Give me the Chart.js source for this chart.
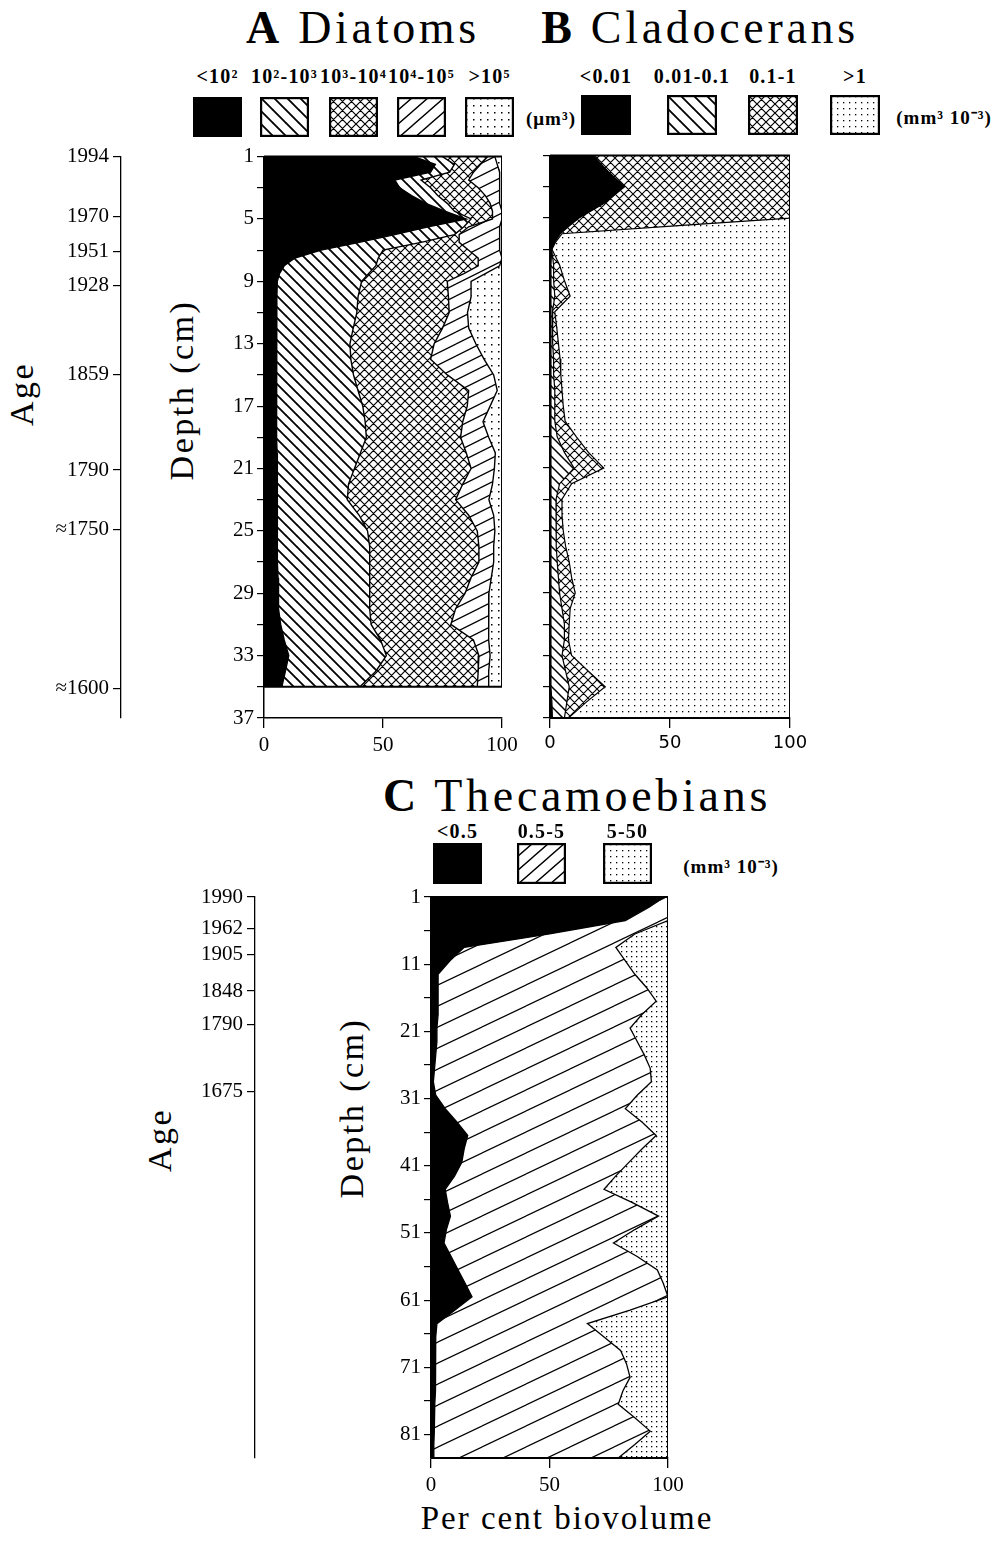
<!DOCTYPE html>
<html>
<head>
<meta charset="utf-8">
<script src="https://cdn.jsdelivr.net/npm/chart.js@4.4.1/dist/chart.umd.min.js"></script>
<style>
html, body { margin: 0; padding: 0; background: #fff; }
#page { position: relative; width: 1004px; height: 1544px; overflow: hidden;
        font-family: 'Liberation Serif', 'Times New Roman', serif; color: #000; }
#page canvas { position: absolute; }
.txt { position: absolute; white-space: nowrap; line-height: 1; transform: translate(-50%, -50%); }
.rot { transform: translate(-50%, -50%) rotate(-90deg); }
.title { font-size: 46px; letter-spacing: 3.7px; }
.axt { font-size: 34px; letter-spacing: 2.5px; }
.lab { font-size: 20px; font-weight: bold; letter-spacing: 1.2px; }
.unit { font-size: 19px; font-weight: bold; letter-spacing: 1px; }
</style>
</head>
<body>
<div id="page">
  <div class="txt title" style="left:363px;top:28px"><b>A</b> Diatoms</div>
  <div class="txt title" style="left:700px;top:28px"><b>B</b> Cladocerans</div>
  <div class="txt title" style="left:577px;top:796px"><b>C</b> Thecamoebians</div>
  <div class="txt unit" style="left:551px;top:118px">(μm³)</div>
  <div class="txt unit" style="left:944px;top:117px">(mm³ 10⁻³)</div>
  <div class="txt unit" style="left:731px;top:866px">(mm³ 10⁻³)</div>
  <div class="txt axt rot" style="left:22px;top:394px">Age</div>
  <div class="txt axt rot" style="left:182px;top:390px">Depth (cm)</div>
  <div class="txt axt rot" style="left:160px;top:1140px">Age</div>
  <div class="txt axt rot" style="left:352px;top:1108px">Depth (cm)</div>
  <div class="txt" style="left:567px;top:1518px;font-size:33px;letter-spacing:2px">Per cent biovolume</div>
  <canvas id="chartA" width="525" height="620" style="left:0;top:140px"></canvas>
  <canvas id="chartB" width="290" height="620" style="left:525px;top:140px"></canvas>
  <canvas id="chartC" width="570" height="620" style="left:130px;top:880px"></canvas>
</div>
<script>
// Size classes (legend labels)
const diatomClasses = ['<10²', '10²-10³', '10³-10⁴', '10⁴-10⁵', '>10⁵'];
const cladoceranClasses = ['<0.01', '0.01-0.1', '0.1-1', '>1'];
const thecamoebianClasses = ['<0.5', '0.5-5', '5-50'];

// A Diatoms: depth (cm) and cumulative % at the upper edge of each class
const depthsA = [1, 1.5, 2, 2.5, 3, 3.5, 4, 4.5, 5, 5.5, 6, 6.5, 7, 7.5, 8, 8.5, 9,
  10, 11, 12, 13, 14, 15, 16, 17, 18, 19, 20, 21, 22, 23, 24, 25, 26, 27, 28, 29, 30, 31, 32, 33, 34, 35];
const diatomTo1e2 = [63, 72, 70, 55, 57, 62, 68, 76, 85, 69, 55, 40, 24, 13, 8.5, 6.5, 5.6,
  5.4, 5.3, 5.3, 5.2, 5.2, 5.2, 5.3, 5.3, 5.4, 5.4, 5.5, 5.5, 5.5, 5.6, 5.6, 5.6, 5.7, 5.8, 5.9, 6, 6.2, 7, 8.5, 10.4, 9, 7.5];
const diatomTo1e3 = [75, 80, 78, 66, 70, 73, 77, 80, 87, 84, 80, 66, 50, 48, 47, 44, 41,
  39.5, 39, 37.5, 36.1, 36.5, 37.6, 39.5, 41.5, 42.5, 43, 40.5, 38, 35.5, 35, 40, 43.5, 44.4, 44.4, 44.4, 44.4, 44.4, 45, 49, 51.4, 47, 40.3];
const diatomTo1e4 = [94, 91, 88, 86, 90, 93, 95, 96, 96, 86, 82, 82, 86, 90, 90, 84, 77,
  77.5, 77.8, 75, 71.5, 70, 77, 86, 85.4, 83.5, 82.6, 85, 87, 83.5, 80.5, 86, 89.6, 90.3, 90.3, 87, 84.5, 80.5, 78.5, 88, 90.3, 90, 89.6];
const diatomTo1e5 = [97, 98, 99, 99, 99, 99, 99, 100, 100, 99, 99, 99, 99, 100, 99, 93, 87,
  87, 85.5, 86, 89, 92.5, 96.5, 98, 95, 92, 94.4, 97.2, 96.8, 96, 94.5, 96.5, 97, 96.5, 96.5, 95.5, 94.5, 94.4, 94.4, 94.4, 95, 94.4, 94.4];
const diatomTotal = depthsA.map(() => 100);

// B Cladocerans
const depthsB = [1, 2, 3, 4, 5, 5.5, 6, 6.5, 7, 8, 9, 10, 11, 12, 13, 14, 15, 16, 17, 18, 19, 20,
  21, 22, 23, 24, 25, 26, 27, 28, 29, 30, 31, 32, 33, 34, 35, 36, 37];
const cladTo001 = [18, 24, 31, 23, 12, 8, 4.2, 2, 0.7, 0.4, 0.4, 0.4, 0.4, 0.4, 0.4, 0.4, 0.4, 0.4, 0.4, 0.4, 0.4, 0.4,
  0.4, 0.4, 0.4, 0.4, 0.4, 0.4, 0.4, 0.4, 0.4, 0.4, 0.4, 0.4, 0.4, 0.4, 0.4, 0.8, 1];
const cladTo01 = [18, 24, 31, 23, 12, 8, 4.2, 2, 0.7, 1.5, 1.5, 2, 1, 1, 1.2, 1.5, 1.5, 2, 2, 2, 3, 6,
  10, 4, 2.5, 2.5, 2.5, 2.8, 3, 3.5, 4, 5, 6, 6, 5, 6.5, 8, 7, 6];
const cladTo1 = [100, 100, 100, 100, 100, 52, 5, 2.5, 0.8, 4, 6, 8.4, 2, 2.8, 3.5, 4.2, 4.5, 5, 5.5, 6.3, 11, 16,
  22.4, 9, 5, 5, 5.5, 6.5, 8, 9, 10.5, 8.4, 8, 7.7, 9, 16, 23, 15, 7.7];
const cladTotal = depthsB.map(() => 100);

// C Thecamoebians
const depthsC = [1, 2.5, 4.5, 6.5, 8.5, 10.5, 12.5, 14.5, 16.5, 18.5, 20.5, 22.5, 24.5, 26.5, 28.5,
  30.5, 32.5, 34.5, 36.5, 38.5, 40.5, 42.5, 44.5, 46.5, 48.5, 50.5, 52.5, 54.5, 56.5, 58.5,
  60.5, 62.5, 64.5, 66.5, 68.5, 70.5, 72.5, 74.5, 76.5, 78.5, 80.5, 82.5, 84.5];
const thecTo05 = [98.5, 92, 82, 50, 14, 8, 3, 3, 3, 3, 2.5, 2.5, 2, 1.5, 1,
  2, 6, 11, 15.5, 14, 13, 10, 6, 7, 8.2, 6.5, 5.5, 8.5, 11.4, 14.4,
  17.3, 10, 2.5, 2, 2, 2, 1.8, 1.8, 1.6, 1.5, 1.3, 1.2, 1.2];
const thecTo5 = [100, 100, 100, 86, 78, 82, 86, 91, 95, 89, 84, 87, 90, 92.5, 93,
  87, 82, 89, 95, 89, 83.5, 78, 73, 85, 96, 86, 77, 87, 95.5, 98,
  100, 84, 66, 73, 80, 82.5, 84, 81, 79, 86, 92.5, 86, 79];
const thecTotal = depthsC.map(() => 100);

// Axis ticks
const depthTicksAB = [1, 3, 5, 7, 9, 11, 13, 15, 17, 19, 21, 23, 25, 27, 29, 31, 33, 35, 37];
const depthLabelsA = [1, 5, 9, 13, 17, 21, 25, 29, 33, 37];
const depthTicksC = [1, 6, 11, 16, 21, 26, 31, 36, 41, 46, 51, 56, 61, 66, 71, 76, 81];
const depthLabelsC = [1, 11, 21, 31, 41, 51, 61, 71, 81];
const ageDepthsA = [1, 4.85, 7.1, 9.25, 15, 21.1, 24.9, 35.1];
const ageLabelsA = ['1994', '1970', '1951', '1928', '1859', '1790', '≈1750', '≈1600'];
const ageDepthsC = [1, 5.7, 9.6, 15, 20, 30];
const ageLabelsC = ['1990', '1962', '1905', '1848', '1790', '1675'];

// Pattern tiles
function tile(w, h, draw) {
    const c = document.createElement('canvas');
    c.width = w; c.height = h;
    const g = c.getContext('2d');
    draw(g, w, h);
    return c;
}

function lineTile(w, h, segs, lw) {
    return tile(w, h, (g) => {
        g.strokeStyle = '#000';
        g.lineWidth = lw;
        g.beginPath();
        for (const dx of [-w, 0, w]) {
            for (const dy of [-h, 0, h]) {
                segs.forEach(s => {
                    g.moveTo(s[0] + dx, s[1] + dy);
                    g.lineTo(s[2] + dx, s[3] + dy);
                });
            }
        }
        g.stroke();
    });
}

function dotTile(step, size) {
    return tile(step, step, (g) => {
        g.fillStyle = '#000';
        g.fillRect(1, 1, size, size);
    });
}

const helper = document.createElement('canvas').getContext('2d');
function pat(t) { return helper.createPattern(t, 'repeat'); }

const backTileA = lineTile(11, 11, [[0, 0, 11, 11]], 1.8);
const crossTileA = lineTile(9, 9, [[0, 0, 9, 9], [0, 9, 9, 0]], 1.2);
const flatTileA = lineTile(24, 12, [[0, 12, 24, 0]], 1.3);
const dotsTileA = dotTile(7, 1.5);
const backTileB = lineTile(10, 10, [[0, 0, 10, 10]], 1.5);
const crossTileB = lineTile(9, 9, [[0, 0, 9, 9], [0, 9, 9, 0]], 1.1);
const dotsTileB = dotTile(6, 1.3);
const flatTileC = lineTile(44, 21, [[0, 21, 44, 0]], 1.2);
const dotsTileC = dotTile(5, 1.3);
const legendSlashTile = lineTile(16, 14, [[0, 14, 16, 0]], 1.4);
const legendBackTile = lineTile(13, 13, [[0, 0, 13, 13]], 1.8);

const fillsA = ['#000', pat(backTileA), pat(crossTileA), pat(flatTileA), pat(dotsTileA)];
const fillsB = ['#000', pat(backTileB), pat(crossTileB), pat(dotsTileB)];
const fillsC = ['#000', pat(flatTileC), pat(dotsTileC)];

// Legend swatches and labels
function addLegend(labels, tiles, lefts, top, w, h, labelY) {
    const page = document.getElementById('page');
    labels.forEach((text, i) => {
        const d = document.createElement('div');
        d.className = 'txt lab';
        d.style.left = (lefts[i] + w / 2) + 'px';
        d.style.top = labelY + 'px';
        d.textContent = text;
        page.appendChild(d);

        const c = document.createElement('canvas');
        c.width = w; c.height = h;
        c.style.left = lefts[i] + 'px';
        c.style.top = top + 'px';
        const g = c.getContext('2d');
        if (tiles[i] === null) {
            g.fillStyle = '#000';
            g.fillRect(0, 0, w, h);
        } else {
            g.fillStyle = g.createPattern(tiles[i], 'repeat');
            g.fillRect(0, 0, w, h);
            g.strokeStyle = '#000';
            g.lineWidth = 2.2;
            g.strokeRect(1.1, 1.1, w - 2.2, h - 2.2);
        }
        page.appendChild(c);
    });
}

addLegend(diatomClasses, [null, legendBackTile, crossTileA, legendSlashTile, dotsTileA],
    [193, 260, 329, 397, 465], 97, 49, 40, 76);
addLegend(cladoceranClasses, [null, legendBackTile, crossTileA, dotsTileB],
    [581, 667, 748, 830], 95, 50, 40, 76);
addLegend(thecamoebianClasses, [null, legendSlashTile, dotsTileB],
    [433, 517, 603], 843, 49, 41, 831);

// Top and bottom edges of the profile
const framePlugin = {
    id: 'frame',
    afterDatasetsDraw(chart, args, opts) {
        const {ctx} = chart;
        const x = chart.scales.x;
        const y = chart.scales.y;
        ctx.save();
        ctx.strokeStyle = '#000';
        ctx.lineWidth = opts.width;
        opts.depths.forEach(d => {
            const py = y.getPixelForValue(d);
            ctx.beginPath();
            ctx.moveTo(x.getPixelForValue(0), py);
            ctx.lineTo(x.getPixelForValue(100), py);
            ctx.stroke();
        });
        ctx.restore();
    }
};

Chart.defaults.color = '#000';
Chart.defaults.font.family = "'Liberation Serif', 'Times New Roman', serif";

function makeProfile(id, p) {
    const datasets = p.bounds.map((vals, i) => ({
        label: p.labels[i],
        data: p.depths.map((d, j) => ({x: vals[j], y: d})),
        borderColor: '#000',
        borderWidth: i === p.bounds.length - 1 ? 2 : p.lineWidth,
        backgroundColor: p.fills[i],
        fill: i === 0 ? 'origin' : '-1',
        pointRadius: 0,
        tension: 0
    }));

    const scales = {
        x: {
            type: 'linear',
            position: 'bottom',
            min: 0,
            max: 100,
            ticks: {stepSize: 50, padding: 5, font: p.xFont, maxRotation: 0},
            grid: {drawOnChartArea: false, tickLength: 10, color: '#000', tickColor: '#000', lineWidth: 1.3},
            border: {color: '#000', width: 1.5},
            afterFit: (s) => { s.height = 42; }
        },
        y: {
            type: 'linear',
            position: 'left',
            weight: 0,
            reverse: true,
            min: p.depths[0],
            max: p.yMax,
            afterBuildTicks: (s) => { s.ticks = p.depthTicks.map(v => ({value: v})); },
            ticks: {
                autoSkip: false,
                padding: 3,
                font: {size: 21},
                callback: (v) => p.depthLabels.includes(v) ? String(v) : ''
            },
            grid: {drawOnChartArea: false, tickLength: 7, color: '#000', tickColor: '#000', lineWidth: 1.2},
            border: {color: '#000', width: 1.5},
            afterFit: (s) => { s.width = p.depthWidth; }
        }
    };

    if (p.ageDepths) {
        scales.age = {
            type: 'linear',
            position: 'left',
            weight: 1,
            reverse: true,
            min: p.depths[0],
            max: p.yMax,
            afterBuildTicks: (s) => { s.ticks = p.ageDepths.map(v => ({value: v})); },
            ticks: {
                autoSkip: false,
                padding: 4,
                font: {size: 21},
                callback: (v, i) => p.ageLabels[i]
            },
            grid: {drawOnChartArea: false, tickLength: 8, color: '#000', tickColor: '#000', lineWidth: 1.2},
            border: {color: '#000', width: 1.3},
            afterFit: (s) => { s.width = p.ageWidth; }
        };
    }

    return new Chart(document.getElementById(id), {
        type: 'line',
        data: {datasets: datasets},
        options: {
            indexAxis: 'y',
            responsive: false,
            animation: false,
            devicePixelRatio: 1,
            layout: {autoPadding: false, padding: p.padding},
            plugins: {
                legend: {display: false},
                tooltip: {enabled: false},
                frame: {depths: [p.depths[0], p.depths[p.depths.length - 1]], width: 2}
            },
            scales: scales
        },
        plugins: [framePlugin]
    });
}

makeProfile('chartA', {
    depths: depthsA,
    bounds: [diatomTo1e2, diatomTo1e3, diatomTo1e4, diatomTo1e5, diatomTotal],
    labels: diatomClasses,
    fills: fillsA,
    lineWidth: 1.4,
    yMax: 37,
    depthTicks: depthTicksAB,
    depthLabels: depthLabelsA,
    ageDepths: ageDepthsA,
    ageLabels: ageLabelsA,
    ageWidth: 121,
    depthWidth: 143,
    xFont: {size: 21},
    padding: {top: 15, right: 23, bottom: 0, left: 0}
});

makeProfile('chartB', {
    depths: depthsB,
    bounds: [cladTo001, cladTo01, cladTo1, cladTotal],
    labels: cladoceranClasses,
    fills: fillsB,
    lineWidth: 1.2,
    yMax: 37,
    depthTicks: depthTicksAB,
    depthLabels: [],
    depthWidth: 25,
    xFont: {size: 18, family: "'DejaVu Sans', sans-serif"},
    padding: {top: 15, right: 25, bottom: 0, left: 0}
});

makeProfile('chartC', {
    depths: depthsC,
    bounds: [thecTo05, thecTo5, thecTotal],
    labels: thecamoebianClasses,
    fills: fillsC,
    lineWidth: 1.3,
    yMax: 84.5,
    depthTicks: depthTicksC,
    depthLabels: depthLabelsC,
    ageDepths: ageDepthsC,
    ageLabels: ageLabelsC,
    ageWidth: 125,
    depthWidth: 176,
    xFont: {size: 21},
    padding: {top: 17, right: 32, bottom: 0, left: 0}
});
</script>
</body>
</html>
